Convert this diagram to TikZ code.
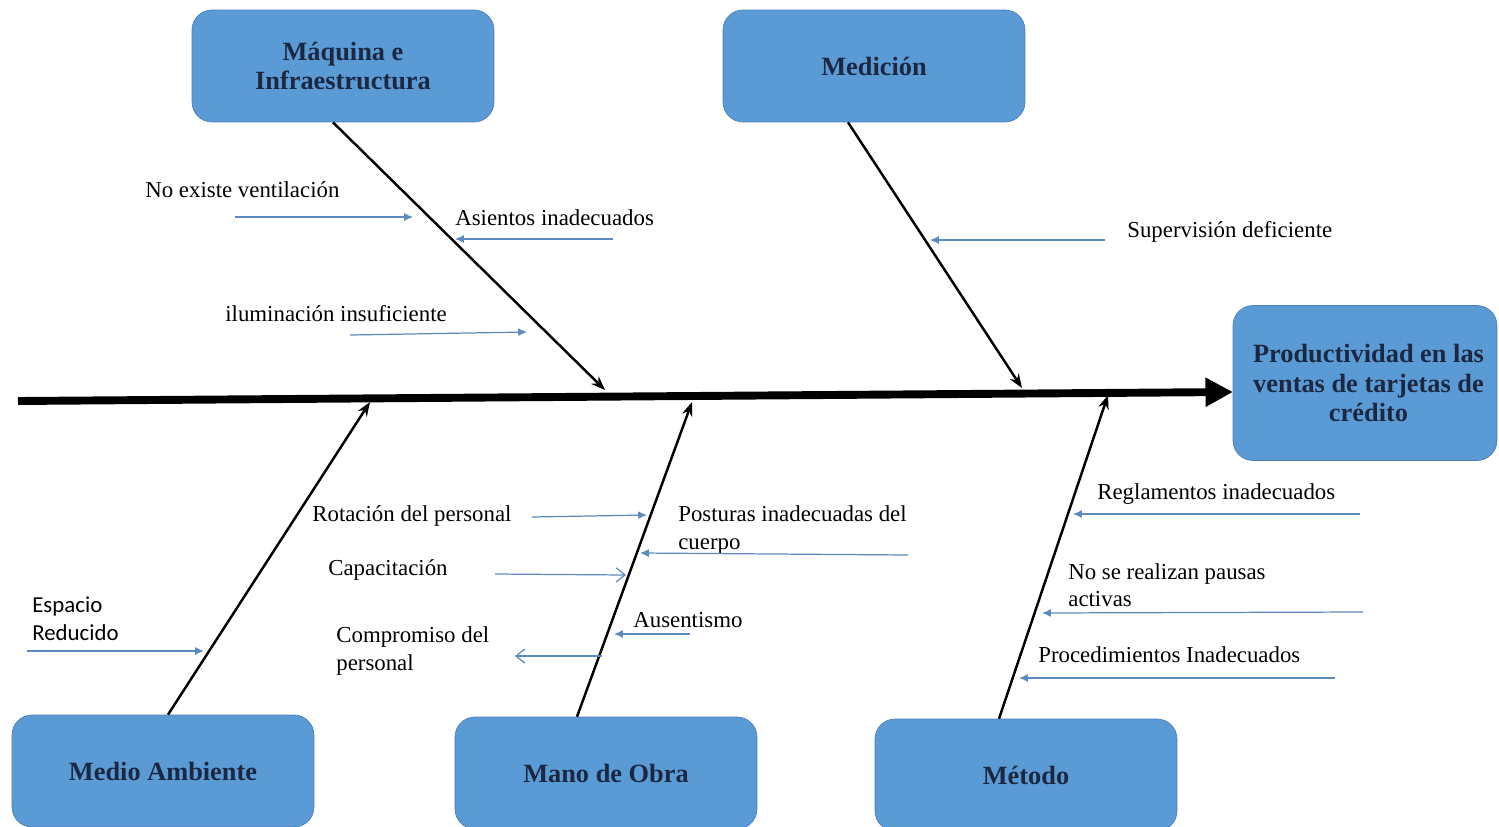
\documentclass[tikz,border=0pt]{standalone}
\usepackage{fontspec}
\setmainfont{Liberation Serif}
\newfontfamily\calfont{Carlito}
\usetikzlibrary{positioning, arrows.meta}
\definecolor{boxblue}{HTML}{5B9BD5}
\definecolor{boxline}{HTML}{4A7EBB}
\definecolor{navy}{HTML}{1C2841}
\definecolor{thinblue}{HTML}{5A8AC0}
\tikzset{
cause/.style={shape=rectangle, rounded corners=0.4cm, draw=boxline, fill=boxblue, minimum width=6.04cm, minimum height=2.24cm, align=center, text=navy, font=\fontsize{15}{17}\selectfont\bfseries}, effect/.style={cause, minimum width=5.28cm, minimum height=3.1cm}, reason/.style={anchor=west, inner sep=0, align=left, font=\fontsize{13}{15.5}\selectfont},
spine/.style={line width=4.5pt, -{Triangle[length=0.55cm, width=0.55cm]}}, bone/.style={line width=1.4pt, -{Stealth[length=8pt, width=6pt]}}, sub/.style={draw=thinblue, line width=0.7pt, -{Latex[length=5pt, width=4.5pt]}}, subopen/.style={sub, -{Straight Barb[length=5pt, width=8pt]}}}
\begin{document}
\begin{tikzpicture}[x=0.02cm, y=-0.02cm]
\useasboundingbox (0,0) rectangle (1499,826);
\node [cause] (maq) at (343,66) {Máquina e\\Infraestructura};
\node [cause] (med) at (874,66) {Medición};
\node [effect] (prod) at (1365,383) {\hspace*{0.14cm}Productividad en las\\\hspace*{0.14cm}ventas de tarjetas de\\\hspace*{0.14cm}crédito};
\node [cause] (amb) at (163,771) {Medio Ambiente};
\node [cause] (obra) at (606,773) {Mano de Obra};
\node [cause] (met) at (1026,775) {Método};
\coordinate (tail) at (18,401);
\coordinate (head) at (1233,392);
\draw [spine] (tail) -- (head);
\coordinate (b1) at (605,390);
\coordinate (b2) at (1022,388);
\coordinate (b3) at (370,402);
\coordinate (b4) at (692,402);
\coordinate (b5) at (1108,395);
\draw [bone] ([xshift=-0.2cm]maq.south) -- (b1);
\draw [bone] ([xshift=-0.52cm]med.south) -- (b2);
\draw [bone] ([xshift=0.1cm]amb.north) -- (b3);
\draw [bone] ([xshift=-0.58cm]obra.north) -- (b4);
\draw [bone] ([xshift=-0.54cm]met.north) -- (b5);
\node [reason] (vent) at (145,190) {No existe ventilación};
\node [reason] (asi) at (455,218) {Asientos inadecuados};
\node [reason] (ilu) at (225,314) {iluminación insuficiente};
\node [reason] (sup) at (1127,232) {Supervisión deficiente};
\node [reason] (rot) at (312,516) {Rotación del personal};
\node [reason] (pos) at (678,530) {Posturas inadecuadas del\\cuerpo};
\node [reason] (cap) at (328,570) {Capacitación};
\node [reason, font=\calfont\fontsize{13}{16}\selectfont] (esp) at (32,619) {Espacio\\Reducido};
\node [reason] (aus) at (633,620) {Ausentismo};
\node [reason] (com) at (336,651) {Compromiso del\\personal};
\node [reason] (reg) at (1097,494) {Reglamentos inadecuados};
\node [reason] (pau) at (1068,585) {No se realizan pausas\\activas};
\node [reason] (proc) at (1038,655) {Procedimientos Inadecuados};
\coordinate (v1) at (235,217);
\coordinate (v2) at (413,217);
\coordinate (a1) at (613,239);
\coordinate (a2) at (455,239);
\coordinate (i1) at (350,335);
\coordinate (i2) at (527,332);
\coordinate (s1) at (1105,240);
\coordinate (s2) at (930,240);
\coordinate (r1) at (532,517);
\coordinate (r2) at (647,515);
\coordinate (p1) at (908,555);
\coordinate (p2) at (640,553);
\coordinate (c1) at (495,574);
\coordinate (c2) at (626,575);
\coordinate (e1) at (27,651);
\coordinate (e2) at (204,651);
\coordinate (u1) at (690,634);
\coordinate (u2) at (614,634);
\coordinate (m1) at (602,656);
\coordinate (m2) at (515,656);
\coordinate (g1) at (1360,514);
\coordinate (g2) at (1073,514);
\coordinate (n1) at (1363,612);
\coordinate (n2) at (1042,613);
\coordinate (d1) at (1335,678);
\coordinate (d2) at (1019,678);
\draw [sub] (v1) -- (v2);
\draw [sub] (a1) -- (a2);
\draw [sub] (i1) -- (i2);
\draw [sub] (s1) -- (s2);
\draw [sub] (r1) -- (r2);
\draw [sub] (p1) -- (p2);
\draw [subopen] (c1) -- (c2);
\draw [sub] (e1) -- (e2);
\draw [sub] (u1) -- (u2);
\draw [subopen] (m1) -- (m2);
\draw [sub] (g1) -- (g2);
\draw [sub] (n1) -- (n2);
\draw [sub] (d1) -- (d2);
\end{tikzpicture}
\end{document}
